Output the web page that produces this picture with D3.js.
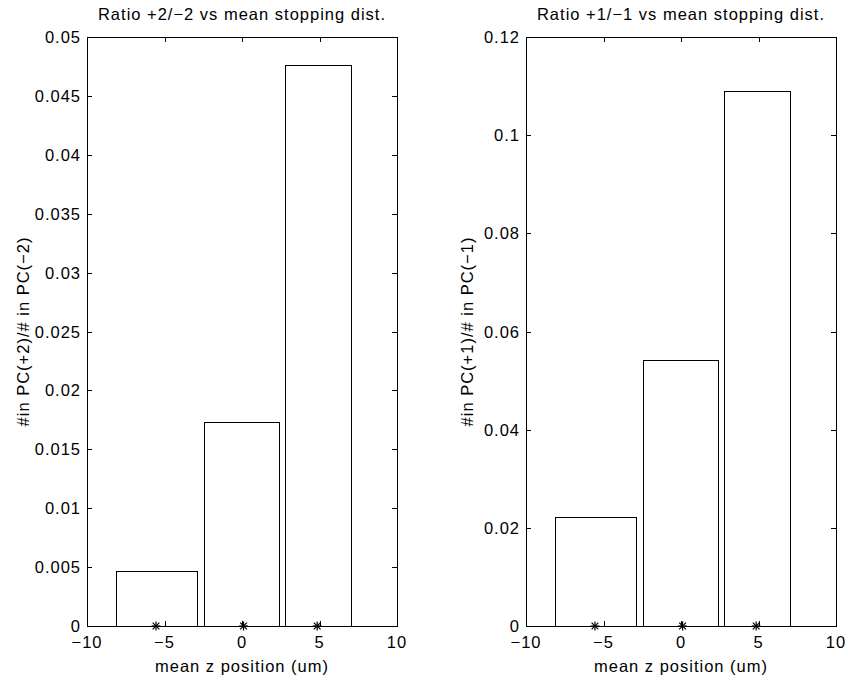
<!DOCTYPE html>
<html>
<head>
<meta charset="utf-8">
<script src="https://cdn.jsdelivr.net/npm/d3@7"></script>
<style>
  html, body { margin: 0; padding: 0; background: #fff; }
  svg text { font-family: "Liberation Sans", Arial, Helvetica, sans-serif; fill: #000; letter-spacing: 1px; }
</style>
</head>
<body>
<svg id="chart" width="848" height="681"></svg>
<script>
// ---- data ----
const barLeft  = [-8.15, -2.44, 2.78];
const barRight = [-2.93,  2.38, 7.02];
const starX    = [-5.55, 0.1, 4.85];

const leftValues  = [0.0047, 0.0173, 0.0476];
const rightValues = [0.0222, 0.0542, 0.109];

const xTicks = [-10, -5, 0, 5, 10];
const leftYTicks  = [0, 0.005, 0.01, 0.015, 0.02, 0.025, 0.03, 0.035, 0.04, 0.045, 0.05];
const rightYTicks = [0, 0.02, 0.04, 0.06, 0.08, 0.1, 0.12];

const leftTitle  = "Ratio +2/\u22122 vs mean stopping dist.";
const rightTitle = "Ratio +1/\u22121 vs mean stopping dist.";
const leftYLabel  = "#in PC(+2)/# in PC(\u22122)";
const rightYLabel = "#in PC(+1)/# in PC(\u22121)";
const xLabel = "mean z position (um)";

const svg = d3.select("#chart");
const fmtX = d => (d < 0 ? "\u2212" + Math.abs(d) : String(d));
const fmtY = d => (d === 0 ? "0" : String(+d.toPrecision(3)));
const FS = 16.5;

function panel(cfg) {
  const { x0, x1, y0, y1, yMax, values, yTicks, title, ylabel, ylabelX } = cfg;
  const x = d3.scaleLinear().domain([-10, 10]).range([x0, x1]);
  const y = d3.scaleLinear().domain([0, yMax]).range([y1, y0]);
  const g = svg.append("g");
  const tl = 5;

  // bars
  g.selectAll("rect.bar").data(values).enter().append("rect")
    .attr("class", "bar")
    .attr("x", (d, i) => Math.round(x(barLeft[i])) + 0.5)
    .attr("y", d => Math.round(y(d)) + 0.5)
    .attr("width", (d, i) => Math.round(x(barRight[i])) - Math.round(x(barLeft[i])))
    .attr("height", d => Math.round(y(0)) - Math.round(y(d)))
    .attr("fill", "#fff").attr("stroke", "#000").attr("stroke-width", 1);

  // stars
  const sz = 4.5;
  starX.forEach(sx => {
    const cx = x(sx), cy = y(0);
    const s = g.append("g").attr("transform", `translate(${cx},${cy})`)
      .attr("stroke", "#000").attr("stroke-width", 1.2);
    s.append("line").attr("x1", -sz).attr("x2", sz).attr("y1", 0).attr("y2", 0);
    s.append("line").attr("x1", 0).attr("x2", 0).attr("y1", -sz).attr("y2", sz);
    s.append("line").attr("x1", -sz*0.75).attr("x2", sz*0.75).attr("y1", -sz*0.75).attr("y2", sz*0.75);
    s.append("line").attr("x1", -sz*0.75).attr("x2", sz*0.75).attr("y1", sz*0.75).attr("y2", -sz*0.75);
  });

  // box
  g.append("rect")
    .attr("x", Math.round(x0) + 0.5).attr("y", Math.round(y0) + 0.5)
    .attr("width", Math.round(x1) - Math.round(x0)).attr("height", Math.round(y1) - Math.round(y0))
    .attr("fill", "none").attr("stroke", "#000").attr("stroke-width", 1);

  // x ticks (bottom + top, inward)
  xTicks.forEach(t => {
    const px = Math.round(x(t)) + 0.5;
    g.append("line").attr("x1", px).attr("x2", px).attr("y1", y1).attr("y2", y1 - tl).attr("stroke", "#000");
    g.append("line").attr("x1", px).attr("x2", px).attr("y1", y0).attr("y2", y0 + tl).attr("stroke", "#000");
    g.append("text").attr("x", x(t)).attr("y", y1 + 22).attr("text-anchor", "middle")
      .attr("font-size", FS).text(fmtX(t));
  });
  // y ticks (left + right, inward)
  yTicks.forEach(t => {
    const py = Math.round(y(t)) + 0.5;
    g.append("line").attr("x1", x0).attr("x2", x0 + tl).attr("y1", py).attr("y2", py).attr("stroke", "#000");
    g.append("line").attr("x1", x1).attr("x2", x1 - tl).attr("y1", py).attr("y2", py).attr("stroke", "#000");
    g.append("text").attr("x", x0 - 6).attr("y", y(t) + 6).attr("text-anchor", "end")
      .attr("font-size", FS).text(fmtY(t));
  });

  // title
  g.append("text").attr("x", (x0 + x1) / 2).attr("y", 20).attr("text-anchor", "middle")
    .attr("font-size", FS).text(title);
  // x label
  g.append("text").attr("x", (x0 + x1) / 2).attr("y", y1 + 46).attr("text-anchor", "middle")
    .attr("font-size", FS).text(xLabel);
  // y label
  g.append("text").attr("transform", `translate(${ylabelX},${(y0 + y1) / 2}) rotate(-90)`)
    .attr("text-anchor", "middle").attr("font-size", FS).text(ylabel);
}

panel({ x0: 87, x1: 397, y0: 37, y1: 626, yMax: 0.05, values: leftValues, yTicks: leftYTicks,
        title: leftTitle, ylabel: leftYLabel, ylabelX: 29 });
panel({ x0: 526, x1: 836, y0: 37, y1: 626, yMax: 0.12, values: rightValues, yTicks: rightYTicks,
        title: rightTitle, ylabel: rightYLabel, ylabelX: 473 });
</script>
</body>
</html>
